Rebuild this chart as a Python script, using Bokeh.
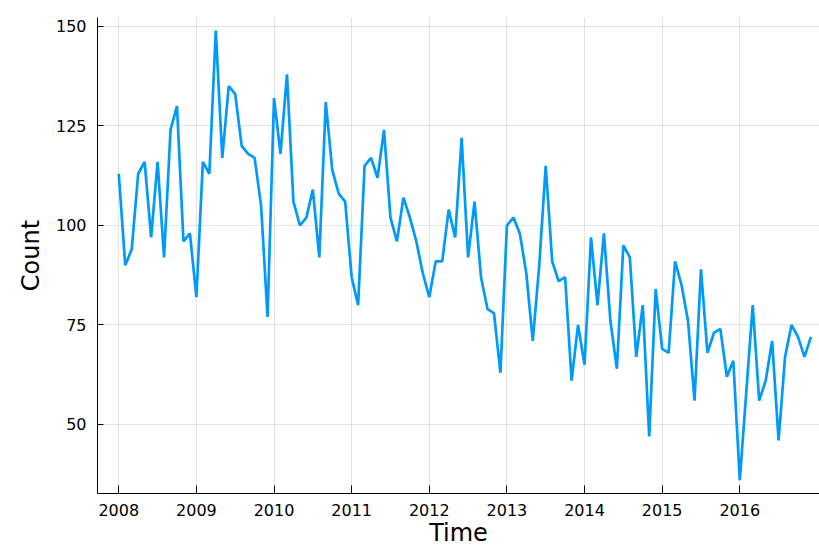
from bokeh.plotting import figure
from bokeh.models import FixedTicker, Range1d, ColumnDataSource
from bokeh.embed import file_html
from bokeh.resources import INLINE

# Monthly counts, Jan..Dec for each year
count_2008 = [113, 90, 94, 113, 116, 97, 116, 92, 124, 130, 96, 98]
count_2009 = [82, 116, 113, 149, 117, 135, 133, 120, 118, 117, 105, 77]
count_2010 = [132, 118, 138, 106, 100, 102, 109, 92, 131, 114, 108, 106]
count_2011 = [87, 80, 115, 117, 112, 124, 102, 96, 107, 102, 96, 88]
count_2012 = [82, 91, 91, 104, 97, 122, 92, 106, 87, 79, 78, 63]
count_2013 = [100, 102, 98, 88, 71, 90, 115, 91, 86, 87, 61, 75]
count_2014 = [65, 97, 80, 98, 76, 64, 95, 92, 67, 80, 47, 84]
count_2015 = [69, 68, 91, 85, 76, 56, 89, 68, 73, 74, 62, 66]
count_2016 = [36, 58, 80, 56, 61, 71, 46, 67, 75, 72, 67, 72]

years = [2008, 2009, 2010, 2011, 2012, 2013, 2014, 2015, 2016]
year_labels = ["2008", "2009", "2010", "2011", "2012", "2013", "2014", "2015", "2016"]
y_ticks = [50, 75, 100, 125, 150]

series = [count_2008, count_2009, count_2010, count_2011, count_2012,
          count_2013, count_2014, count_2015, count_2016]

t = []
c = []
for yr, vals in zip(years, series):
    for m, v in enumerate(vals):
        t.append(yr + m / 12.0)
        c.append(v)

src = ColumnDataSource(data=dict(t=t, count=c))

FONT = "DejaVu Sans"

p = figure(width=819, height=549, output_backend="svg", toolbar_location=None,
           x_range=Range1d(2007.726, 2017.027), y_range=Range1d(32.66, 152.26),
           min_border_left=97, min_border_right=0, min_border_top=17, min_border_bottom=56)

p.line("t", "count", source=src, line_color="#009AFA", line_width=2.7)

p.outline_line_color = None
p.background_fill_color = "white"
p.border_fill_color = "white"

p.xaxis.ticker = FixedTicker(ticks=years)
p.xaxis.major_label_overrides = {yr: lab for yr, lab in zip(years, year_labels)}
p.yaxis.ticker = FixedTicker(ticks=y_ticks)

p.xaxis.axis_label = "Time"
p.yaxis.axis_label = "Count"

for ax in (p.xaxis, p.yaxis):
    ax.axis_line_color = "black"
    ax.axis_line_width = 1
    ax.major_tick_line_color = "black"
    ax.major_tick_out = 0
    ax.minor_tick_line_color = None
    ax.major_label_text_font = FONT
    ax.major_label_text_font_size = "16px"
    ax.major_label_text_color = "black"
    ax.axis_label_text_font = FONT
    ax.axis_label_text_font_size = "24px"
    ax.axis_label_text_font_style = "normal"
    ax.axis_label_text_color = "black"

p.xaxis.major_tick_in = 8
p.yaxis.major_tick_in = 6
p.xaxis.major_label_standoff = 10
p.yaxis.major_label_standoff = 11
p.xaxis.axis_label_standoff = 0
p.yaxis.axis_label_standoff = 8

p.xgrid.ticker = FixedTicker(ticks=years)
p.ygrid.ticker = FixedTicker(ticks=y_ticks)
p.grid.grid_line_color = "black"
p.grid.grid_line_alpha = 0.1
p.grid.grid_line_width = 1

open("out.html", "w").write(file_html(p, INLINE))
